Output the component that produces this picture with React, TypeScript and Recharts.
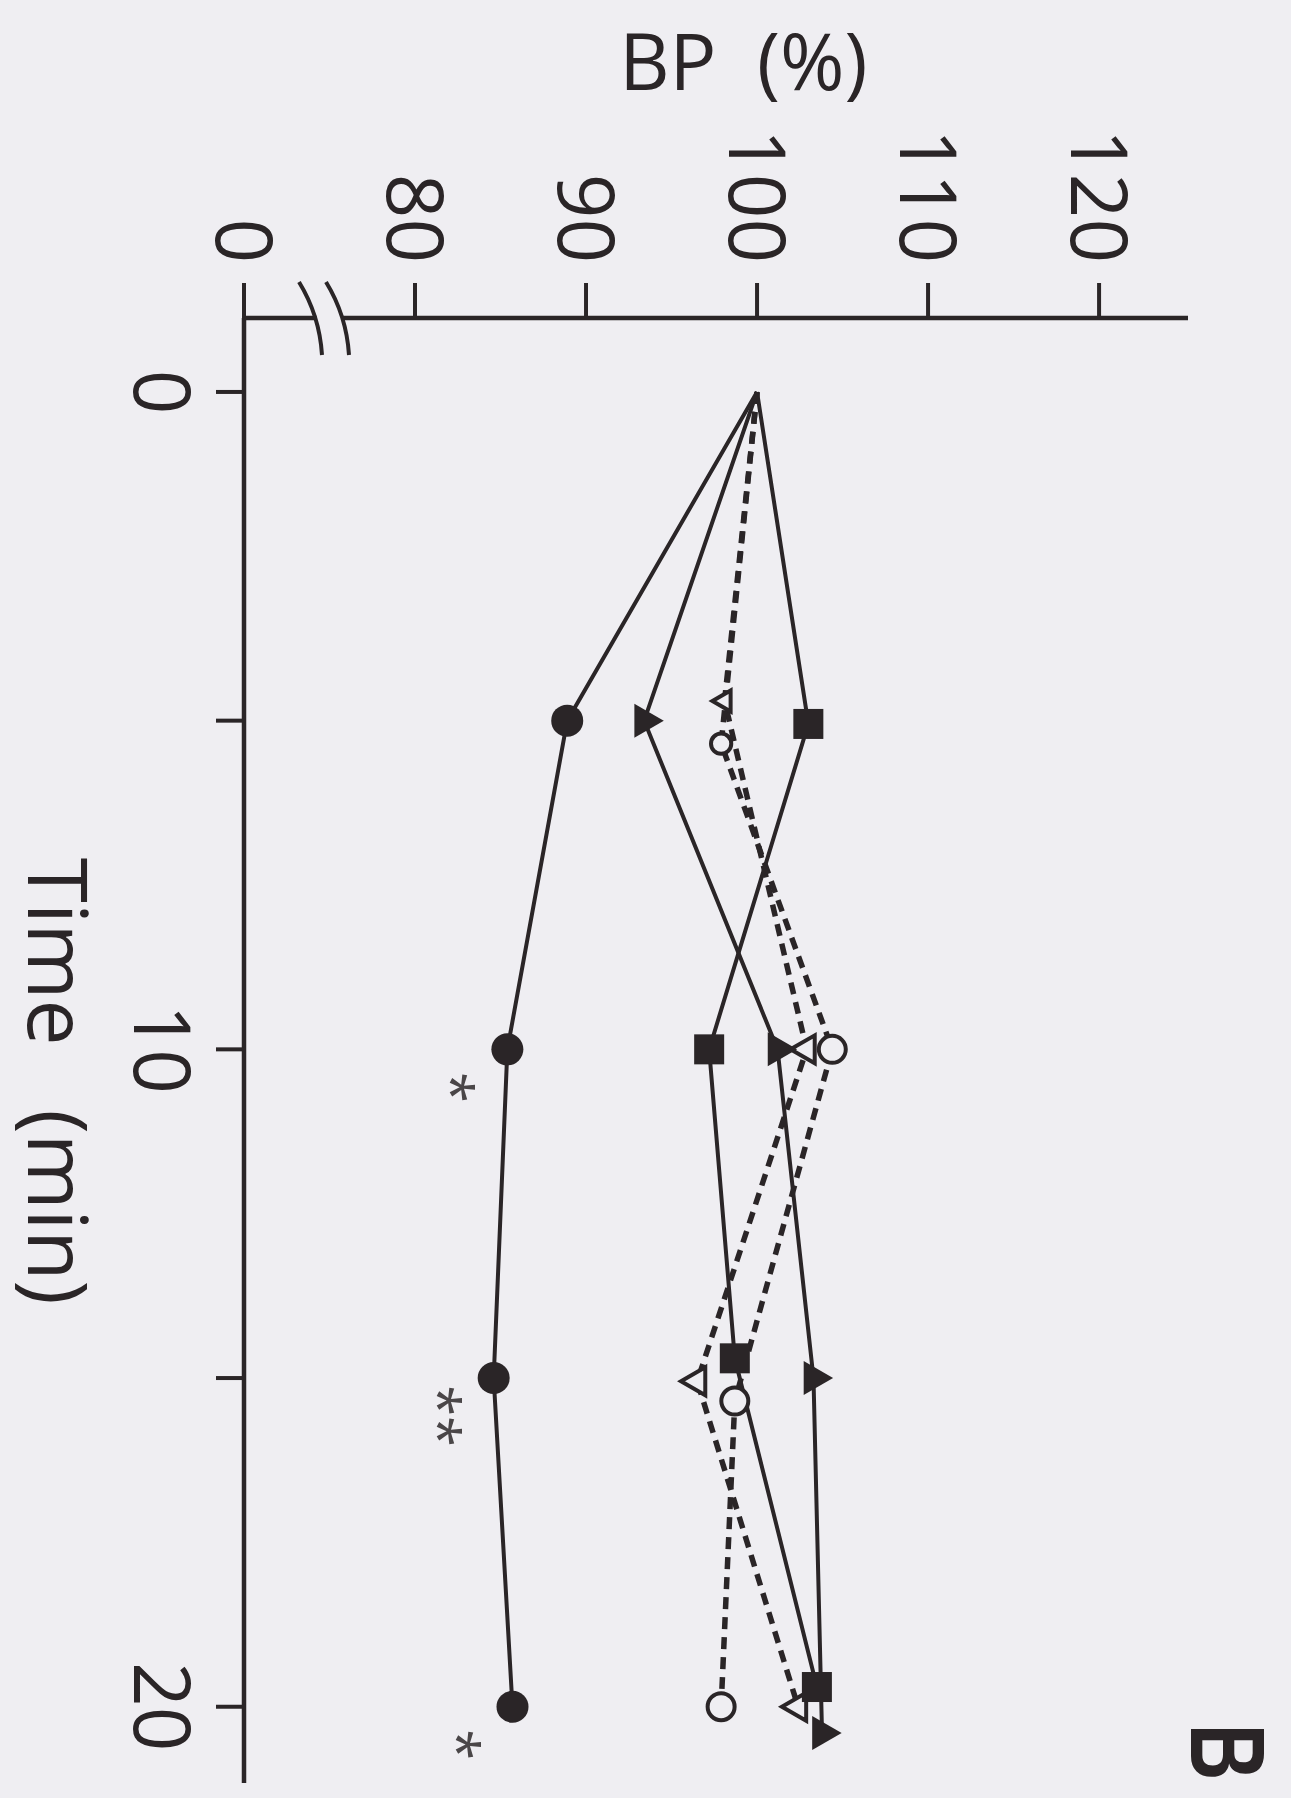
import React from 'react'
import { LineChart, Line, XAxis, YAxis, Label, LabelList } from 'recharts'

// time (min) and BP (%), per group
const circleTime = [0, 5, 10, 15, 20]
const circleBP = [100, 88.9, 85.4, 84.6, 85.7]
const circleSig = ['', '', '*', '**', '*']

const triangleTime = [0, 5, 10, 15, 20.4]
const triangleBP = [100, 93.4, 101.2, 103.3, 103.8]

const squareTime = [0, 5.05, 10, 14.7, 19.7]
const squareBP = [100, 103.0, 97.2, 98.7, 103.5]

const openCircleTime = [0, 5.35, 10, 15.35, 20]
const openCircleBP = [100, 97.9, 104.4, 98.7, 97.9]

const openTriangleTime = [0, 4.7, 10, 15.05, 20]
const openTriangleBP = [100, 98.1, 102.9, 96.5, 102.4]

const timeTicks = [0, 5, 10, 15, 20]
const timeTickLabels = ['0', '', '10', '', '20']
const bpTicks = [70, 80, 90, 100, 110, 120]
const bpTickLabels = ['0', '80', '90', '100', '110', '120']

const INK = '#2a2527'
const BG = '#efeef2'
const FONT = '"Open Sans", sans-serif'

// the chart is drawn upright, then turned 90deg clockwise like the scan
const W = 1798
const H = 1291
const MARGIN = { top: 103, right: 15, bottom: 0, left: 0 }
const Y_DOMAIN: [number, number] = [70, 125.2]
const X_DOMAIN: [number, number] = [-1.125, 21.16]
const Y_AXIS_W = 318
const X_AXIS_H = 244

const rows = (t: number[], bp: number[], sig?: string[]) =>
  t.map((v, i) => ({ t: v, bp: bp[i], sig: sig ? sig[i] : '' }))

type Kind = 'circle' | 'square' | 'triangle' | 'openCircle' | 'openTriangle'

function makeDot(kind: Kind) {
  return (props: any) => {
    const { cx, cy, index } = props
    const key = `${kind}-${index}`
    if (index === 0 || cx == null || cy == null) return <g key={key} />
    const small = index === 1 ? 0.75 : 1
    if (kind === 'circle') return <circle key={key} cx={cx} cy={cy} r={16} fill={INK} />
    if (kind === 'square')
      return <rect key={key} x={cx - 15} y={cy - 15} width={30} height={30} fill={INK} />
    if (kind === 'triangle') {
      const s = 34
      const h = s * 0.866
      return (
        <polygon
          key={key}
          points={`${cx},${cy - (2 * h) / 3} ${cx + s / 2},${cy + h / 3} ${cx - s / 2},${cy + h / 3}`}
          fill={INK}
        />
      )
    }
    if (kind === 'openCircle')
      return <circle key={key} cx={cx} cy={cy} r={13.5 * small} fill={BG} stroke={INK} strokeWidth={4} />
    const s = 28 * small
    const h = s * 0.866
    return (
      <polygon
        key={key}
        points={`${cx},${cy + (2 * h) / 3} ${cx + s / 2},${cy - h / 3} ${cx - s / 2},${cy - h / 3}`}
        fill={BG}
        stroke={INK}
        strokeWidth={4}
        strokeLinejoin="miter"
      />
    )
  }
}

const sigLabel = (p: any) => {
  const { x, y, value, index } = p
  if (!value) return <g key={`sig-${index}`} />
  return (
    <text
      key={`sig-${index}`}
      x={x + 38}
      y={y + 75}
      textAnchor="middle"
      fontSize={56}
      fontFamily={FONT}
      fill="#4a4648"
    >
      {value}
    </text>
  )
}

const timeTitle = (p: any) => {
  const vb = p.viewBox
  return (
    <text
      x={vb.x + vb.width * 0.521}
      y={vb.y + 216}
      textAnchor="middle"
      fontSize={82}
      fontFamily={FONT}
      fill={INK}
    >
      {'Time\u00a0\u00a0\u00a0(min)'}
    </text>
  )
}

const bpTitle = (p: any) => {
  const vb = p.viewBox
  const cx = 90
  const cy = vb.y + vb.height * 0.471
  return (
    <text
      x={cx}
      y={cy}
      transform={`rotate(-90 ${cx} ${cy})`}
      textAnchor="middle"
      fontSize={78}
      fontFamily={FONT}
      fill={INK}
    >
      {'BP\u00a0\u00a0(%)'}
    </text>
  )
}

const solid = { stroke: INK, strokeWidth: 4, type: 'linear' as const }
const dashed = { stroke: INK, strokeWidth: 5.5, strokeDasharray: '12 8', type: 'linear' as const }

export default function App() {
  // axis break drawn over the BP axis at 75
  const plotTop = MARGIN.top
  const plotH = H - MARGIN.top - MARGIN.bottom - X_AXIS_H
  const breakY = plotTop + ((Y_DOMAIN[1] - 75) / (Y_DOMAIN[1] - Y_DOMAIN[0])) * plotH
  const axisX = MARGIN.left + Y_AXIS_W
  const curve = (dy: number) =>
    `M ${axisX - 36} ${breakY + dy + 30.5} Q ${axisX - 2.5} ${breakY + dy + 10} ${axisX + 37} ${breakY + dy + 7.5}`

  return (
    <div
      style={{
        position: 'absolute',
        left: 0,
        top: 0,
        width: 1291,
        height: 1798,
        overflow: 'hidden',
        background: BG,
      }}
    >
      <div
        style={{
          position: 'absolute',
          left: 0,
          top: 0,
          width: W,
          height: H,
          transformOrigin: '0 0',
          transform: 'translate(1291px, 0) rotate(90deg)',
        }}
      >
        <LineChart width={W} height={H} margin={MARGIN}>
          <XAxis
            type="number"
            dataKey="t"
            domain={X_DOMAIN}
            allowDataOverflow
            ticks={timeTicks}
            interval={0}
            tickFormatter={(v: number) => timeTickLabels[timeTicks.indexOf(v)] ?? ''}
            height={X_AXIS_H}
            tickSize={28}
            tickMargin={27}
            axisLine={{ stroke: INK, strokeWidth: 4.5 }}
            tickLine={{ stroke: INK, strokeWidth: 4 }}
            tick={{ fill: INK, fontSize: 78, fontFamily: FONT }}
          >
            <Label content={timeTitle} />
          </XAxis>
          <YAxis
            type="number"
            domain={Y_DOMAIN}
            allowDataOverflow
            ticks={bpTicks}
            interval={0}
            tickFormatter={(v: number) => bpTickLabels[bpTicks.indexOf(v)] ?? ''}
            width={Y_AXIS_W}
            tickSize={35}
            tickMargin={20}
            axisLine={{ stroke: INK, strokeWidth: 4.5 }}
            tickLine={{ stroke: INK, strokeWidth: 4 }}
            tick={{ fill: INK, fontSize: 78, fontFamily: FONT }}
          >
            <Label content={bpTitle} />
          </YAxis>

          <Line
            data={rows(openTriangleTime, openTriangleBP)}
            dataKey="bp"
            name="open triangle"
            {...dashed}
            dot={makeDot('openTriangle')}
            activeDot={false}
            isAnimationActive={false}
          />
          <Line
            data={rows(openCircleTime, openCircleBP)}
            dataKey="bp"
            name="open circle"
            {...dashed}
            dot={makeDot('openCircle')}
            activeDot={false}
            isAnimationActive={false}
          />
          <Line
            data={rows(squareTime, squareBP)}
            dataKey="bp"
            name="square"
            {...solid}
            dot={makeDot('square')}
            activeDot={false}
            isAnimationActive={false}
          />
          <Line
            data={rows(triangleTime, triangleBP)}
            dataKey="bp"
            name="triangle"
            {...solid}
            dot={makeDot('triangle')}
            activeDot={false}
            isAnimationActive={false}
          />
          <Line
            data={rows(circleTime, circleBP, circleSig)}
            dataKey="bp"
            name="circle"
            {...solid}
            dot={makeDot('circle')}
            activeDot={false}
            isAnimationActive={false}
          >
            <LabelList dataKey="sig" content={sigLabel} />
          </Line>
        </LineChart>

        <svg
          width={W}
          height={H}
          style={{ position: 'absolute', left: 0, top: 0, pointerEvents: 'none' }}
        >
          <rect x={axisX - 6} y={breakY - 12} width={12} height={25} fill={BG} />
          <path d={curve(0)} fill="none" stroke={INK} strokeWidth={4} />
          <path d={curve(-27)} fill="none" stroke={INK} strokeWidth={4} />
          <text
            transform="translate(1752 100) scale(0.74 1)"
            x={0}
            y={0}
            textAnchor="middle"
            fontSize={106}
            fontWeight={700}
            fontFamily='"Liberation Sans", sans-serif'
            fill={INK}
          >
            B
          </text>
        </svg>
      </div>
    </div>
  )
}
